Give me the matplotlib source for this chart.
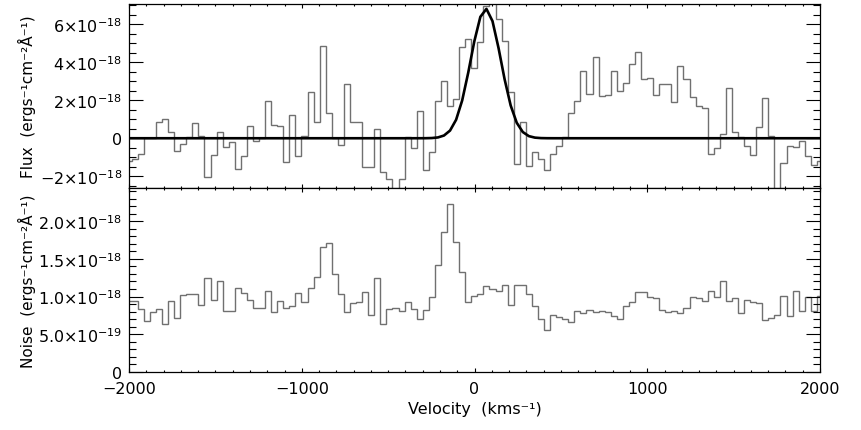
import numpy as np
import matplotlib
matplotlib.use("Agg")
import matplotlib.pyplot as plt
from matplotlib.ticker import MultipleLocator

plt.rcParams['font.family'] = 'DejaVu Sans'
plt.rcParams['mathtext.fontset'] = 'dejavusans'
plt.rcParams['font.size'] = 11.5

# bins of 35.1 km/s, centres from -2002 km/s
bin_width = 35.1
vel = -2002.05 + bin_width * np.arange(115)
edges = np.append(vel - bin_width / 2, vel[-1] + bin_width / 2)

# flux in units of 1e-18 erg/s/cm2/A
flux = [-1.20, -1.09, -0.82, 0.00, 0.00, 0.84, 1.02, 0.32, -0.65, -0.30,
        0.09, 0.79, 0.14, -2.02, -0.88, 0.35, -0.44, -0.18, -1.61, -0.96,
        0.67, -0.12, 0.00, 1.95, 0.72, 0.67, -1.26, 1.25, -0.96, 0.10,
        2.42, 0.84, 4.88, 1.33, 0.02, -0.35, 2.86, 0.88, 0.87, -1.51,
        -1.52, 0.49, -1.79, -2.14, -3.00, -2.14, 0.09, -0.53, 1.45, -1.65,
        -0.74, 1.98, 3.03, 1.68, 2.07, 4.79, 5.23, 3.70, 5.05, 6.98,
        7.20, 6.30, 5.14, 2.45, -1.35, 0.84, -1.44, -0.74, -1.09, -1.65,
        -0.82, -0.39, 0.05, 1.32, 1.98, 3.56, 2.33, 4.30, 2.25, 2.30,
        3.53, 2.47, 2.91, 3.91, 4.56, 3.11, 3.19, 2.30, 2.84, 2.88,
        1.93, 3.82, 3.12, 2.19, 1.70, 1.58, -0.84, -0.53, 0.21, 2.63,
        0.32, 0.05, -0.39, -0.88, 0.60, 2.11, 0.14, -3.00, -1.30, -0.39,
        -0.46, -0.12, -0.91, -1.39, -1.21]

# noise in units of 1e-18
noise = [0.94, 0.94, 0.84, 0.67, 0.80, 0.84, 0.63, 0.94, 0.71, 1.02,
         1.04, 1.04, 0.89, 1.24, 0.96, 1.20, 0.81, 0.81, 1.11, 1.05,
         0.95, 0.85, 0.85, 1.08, 0.80, 0.94, 0.85, 0.87, 1.05, 0.93,
         1.12, 1.26, 1.66, 1.71, 1.30, 1.04, 0.80, 0.92, 0.93, 1.06,
         0.75, 1.25, 0.63, 0.83, 0.85, 0.81, 0.93, 0.83, 0.70, 0.82,
         0.99, 1.42, 1.86, 2.23, 1.73, 1.33, 0.93, 1.01, 1.03, 1.14,
         1.10, 1.08, 1.16, 0.89, 1.16, 1.16, 1.04, 0.88, 0.70, 0.56,
         0.75, 0.73, 0.70, 0.66, 0.81, 0.78, 0.82, 0.80, 0.81, 0.79,
         0.74, 0.70, 0.87, 0.93, 1.06, 1.06, 1.00, 0.98, 0.82, 0.80,
         0.81, 0.78, 0.85, 1.00, 0.98, 0.94, 1.08, 1.00, 1.21, 0.94,
         0.98, 0.78, 0.96, 0.93, 0.92, 0.69, 0.71, 0.76, 1.01, 0.74,
         1.08, 0.81, 1.00, 0.81, 1.01]

# gaussian fit to the line
g_amp, g_cen, g_sig = 6.82, 65.0, 87.0
fit = g_amp * np.exp(-0.5 * ((vel - g_cen) / g_sig) ** 2)

flux_ticks = [-2, 0, 2, 4, 6]
flux_labels = [r'$-2{\times}10^{-18}$', '0', r'$2{\times}10^{-18}$',
               r'$4{\times}10^{-18}$', r'$6{\times}10^{-18}$']
noise_ticks = [0, 0.5, 1.0, 1.5, 2.0]
noise_labels = ['0', r'$5.0{\times}10^{-19}$', r'$1.0{\times}10^{-18}$',
                r'$1.5{\times}10^{-18}$', r'$2.0{\times}10^{-18}$']
vel_ticks = [-2000, -1000, 0, 1000, 2000]

fig = plt.figure(figsize=(8.62, 4.31), dpi=100)
ax1 = fig.add_axes([0.1497, 0.5615, 0.8016, 0.4269])
ax2 = fig.add_axes([0.1497, 0.1352, 0.8016, 0.4257])

hist_col = '#707070'
ax1.stairs(flux, edges, baseline=None, color=hist_col, lw=1.0)
ax1.plot(vel, fit, color='black', lw=1.9)
ax2.stairs(noise, edges, baseline=None, color=hist_col, lw=1.0)

ax1.set_ylim(-2.62, 7.07)
ax2.set_ylim(0, 2.44)

for ax in (ax1, ax2):
    ax.set_xlim(-2000, 2000)
    ax.xaxis.set_major_locator(MultipleLocator(1000))
    ax.xaxis.set_minor_locator(MultipleLocator(100))
    ax.tick_params(axis='both', which='both', direction='in',
                   top=True, right=True, width=0.8)
    ax.tick_params(axis='x', which='major', length=3.0)
    ax.tick_params(axis='x', which='minor', length=1.4)
    ax.tick_params(axis='y', which='major', length=10)
    ax.tick_params(axis='y', which='minor', length=5)
    for s in ax.spines.values():
        s.set_linewidth(0.9)

ax1.set_yticks(flux_ticks)
ax1.set_yticklabels(flux_labels)
ax1.yaxis.set_minor_locator(MultipleLocator(0.5))
ax1.tick_params(axis='x', labelbottom=False)
ax1.tick_params(axis='y', pad=5)

ax2.set_yticks(noise_ticks)
ax2.set_yticklabels(noise_labels)
ax2.yaxis.set_minor_locator(MultipleLocator(0.1))
ax2.set_xticks(vel_ticks)
ax2.set_xticklabels(['\u22122000', '\u22121000', '0', '1000', '2000'])
ax2.tick_params(axis='x', pad=7)
ax2.tick_params(axis='y', pad=5)

ax1.set_ylabel('Flux  (ergs\u207b\u00b9cm\u207b\u00b2\u00c5\u207b\u00b9)', fontsize=11)
ax2.set_ylabel('Noise  (ergs\u207b\u00b9cm\u207b\u00b2\u00c5\u207b\u00b9)', fontsize=11)
ax1.yaxis.set_label_coords(-0.135, 0.5)
ax2.yaxis.set_label_coords(-0.135, 0.5)
ax2.set_xlabel('Velocity  (kms\u207b\u00b9)', labelpad=3)

fig.savefig('out.png', dpi=100)
